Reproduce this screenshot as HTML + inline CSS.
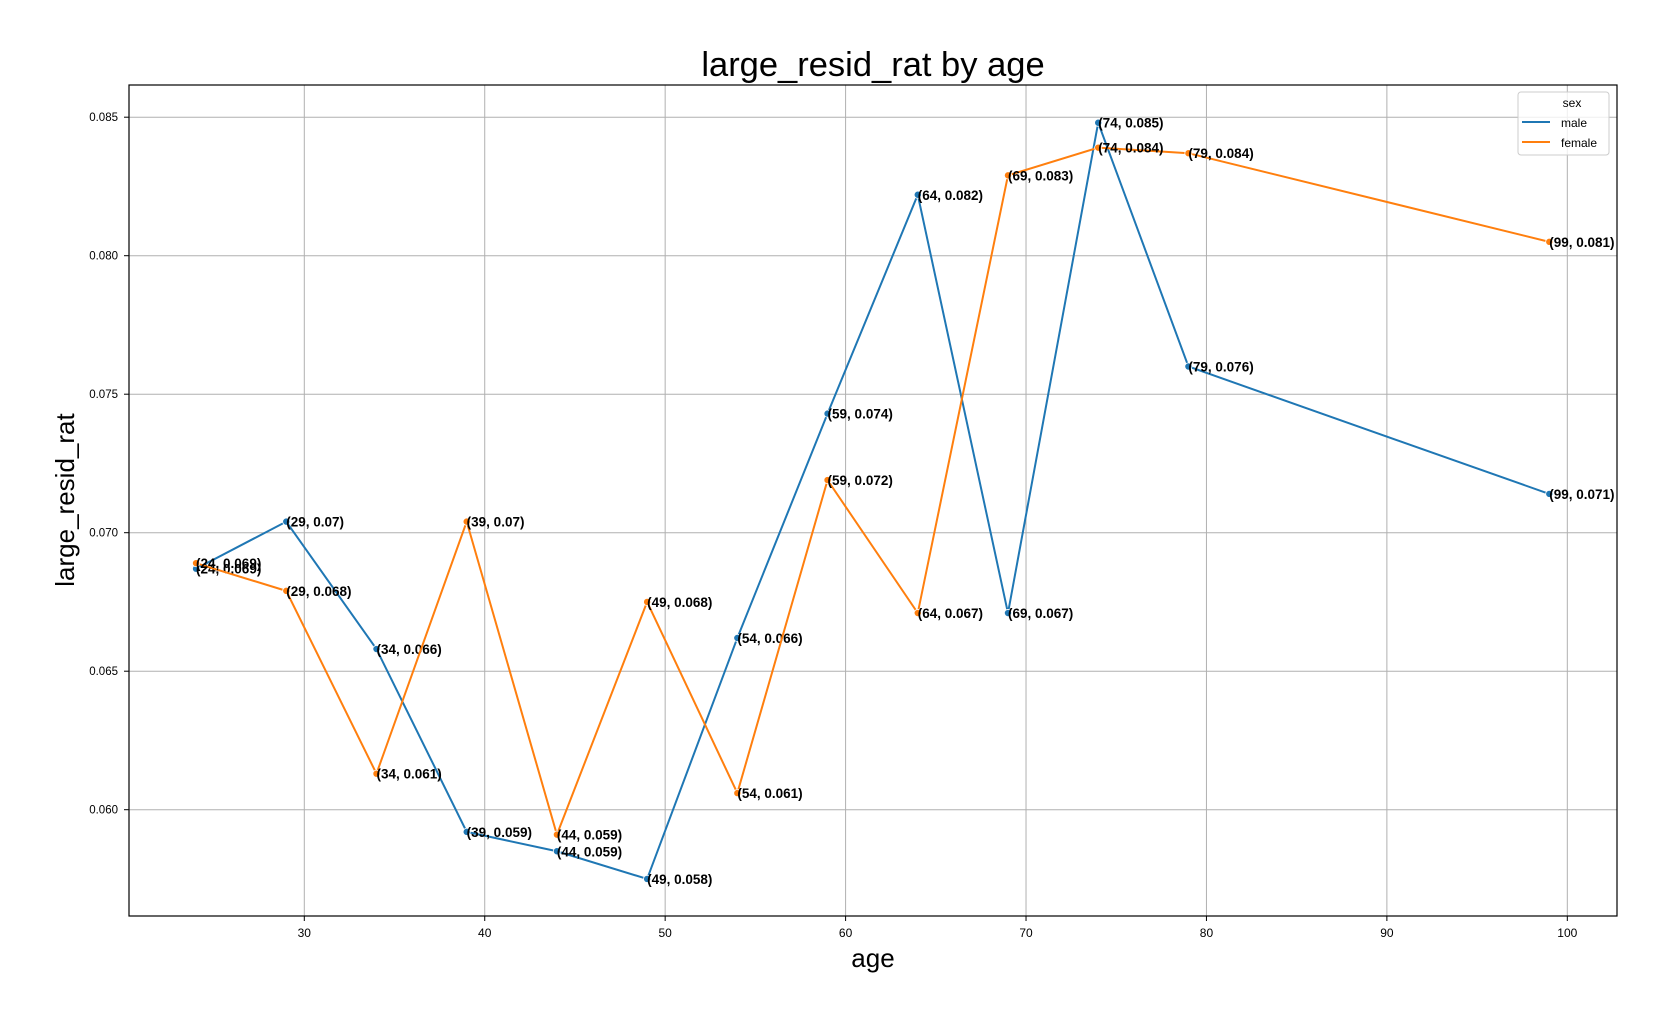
<!DOCTYPE html>
<html><head><meta charset="utf-8"><style>
body{margin:0;background:#fff;}
svg{display:block;font-family:"Liberation Sans","Noto Sans CJK KR",sans-serif;}
</style></head><body>
<svg id="chart" width="1667" height="1023">
<text x="873" y="76" font-size="34.5" text-anchor="middle" fill="#000">large_resid_rat by age</text>
<g id="grid"></g>
<g id="series"></g>
<rect x="129" y="85" width="1488" height="831" fill="none" stroke="#000" stroke-width="1.2"/>
<g id="ticks"></g>
<text x="873" y="967" font-size="26" text-anchor="middle">age</text>
<text transform="translate(74,500) rotate(-90)" font-size="26" text-anchor="middle">large_resid_rat</text>
<g>
<rect x="1518" y="92" width="91" height="63" rx="3" fill="#fff" fill-opacity="0.8" stroke="#ccc"/>
<text x="1572" y="107" font-size="12" text-anchor="middle">sex</text>
<line x1="1522" y1="122" x2="1550" y2="122" stroke="#1f77b4" stroke-width="2"/>
<text x="1561" y="127" font-size="12">male</text>
<line x1="1522" y1="142" x2="1550" y2="142" stroke="#ff7f0e" stroke-width="2"/>
<text x="1561" y="147" font-size="12">female</text>
</g>
</svg>
<script>
const ages = [24,29,34,39,44,49,54,59,64,69,74,79,99];
const maleValues = [0.0687,0.0704,0.0658,0.0592,0.0585,0.0575,0.0662,0.0743,0.0822,0.0671,0.0848,0.0760,0.0714];
const femaleValues = [0.0689,0.0679,0.0613,0.0704,0.0591,0.0675,0.0606,0.0719,0.0671,0.0829,0.0839,0.0837,0.0805];
const xTicks = [30,40,50,60,70,80,90,100];
const yTicks = [0.060,0.065,0.070,0.075,0.080,0.085];

const NS = "http://www.w3.org/2000/svg";
function xs(v){ return 304.3 + (v-30)*18.043; }
function ys(v){ return 809.7 - (v-0.060)*27700; }
function mk(tag, attrs, parent){
  const e = document.createElementNS(NS, tag);
  for (const k in attrs) e.setAttribute(k, attrs[k]);
  parent.appendChild(e); return e;
}
const grid = document.getElementById('grid');
const ticks = document.getElementById('ticks');
const series = document.getElementById('series');
xTicks.forEach(t=>{
  const l = mk('line',{x1:xs(t),x2:xs(t),y1:85,y2:916,stroke:'#b0b0b0','stroke-width':1},grid);
  
  
  const tk = mk('line',{x1:xs(t),x2:xs(t),y1:916,y2:921,stroke:'#000'},ticks);
  
  
  const tx = mk('text',{x:xs(t),y:937,'font-size':12,'text-anchor':'middle'},ticks);
  tx.textContent = t;
  
  
});
yTicks.forEach(t=>{
  const l = mk('line',{x1:129,x2:1617,y1:ys(t),y2:ys(t),stroke:'#b0b0b0','stroke-width':1},grid);
  
  
  const tk = mk('line',{x1:124,x2:129,y1:ys(t),y2:ys(t),stroke:'#000'},ticks);
  
  
  const tx = mk('text',{x:118,y:ys(t)+4,'font-size':11.5,'text-anchor':'end'},ticks);
  tx.textContent = t.toFixed(3);
  
  
});
function draw(vals,color,name){
  const pts = ages.map((a,i)=>xs(a)+','+ys(vals[i])).join(' ');
  const pl = mk('polyline',{points:pts,fill:'none',stroke:color,'stroke-width':2},series);
  
  
  ages.forEach((a,i)=>{
    const c = mk('circle',{cx:xs(a),cy:ys(vals[i]),r:3.6,fill:color,stroke:'#fff','stroke-width':0.8},series);
    
    
    const t = mk('text',{x:xs(a),y:ys(vals[i])+5,'font-size':13.5,'font-weight':'bold'},series);
    t.textContent = '('+a+', '+String(Number(vals[i].toFixed(3)))+')';
    
    
  });
}
draw(maleValues,'#1f77b4','male');
draw(femaleValues,'#ff7f0e','female');
</script>
</body></html>
